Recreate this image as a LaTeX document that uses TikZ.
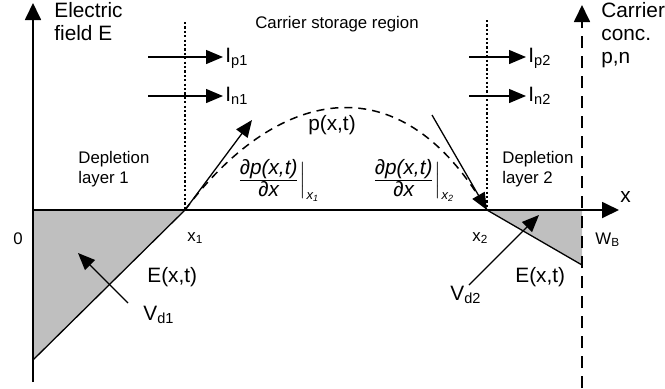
\documentclass[tikz,border=0pt]{standalone}
\usepackage{amsmath}
\usepackage{fontspec}
\setmainfont{Liberation Sans}
\usetikzlibrary{arrows.meta}

\begin{document}
\begin{tikzpicture}[
    x=0.5pt, y=-0.5pt,
    axis/.style={line width=0.9pt, -{Triangle[length=8.5pt, width=8pt]}},
    arrow/.style={line width=0.65pt, -{Triangle[length=8.5pt, width=7pt]}},
    guide/.style={line width=0.6pt, dash pattern=on 1.1pt off 1.1pt},
    profile/.style={line width=0.75pt, dash pattern=on 4pt off 3pt},
    field/.style={line width=0.65pt},
    region/.style={fill=black!25},
    txt/.style={font=\fontsize{10.4}{11.4}\selectfont, inner sep=0pt},
    smalltxt/.style={font=\fontsize{8.4}{9.8}\selectfont, inner sep=0pt}
]
\useasboundingbox (0,0) rectangle (665,388);

\coordinate (origin) at (33,210);
\coordinate (ebot) at (33,382);
\coordinate (etop) at (33,3);
\coordinate (xend) at (619,210);
\coordinate (xone) at (185,210);
\coordinate (xtwo) at (487,210);
\coordinate (wb) at (582,210);
\coordinate (emin) at (33,360);
\coordinate (ewb) at (582,265);
\coordinate (cbot) at (582,388);
\coordinate (ctop) at (582,5);
\coordinate (guideone) at (185,22);
\coordinate (guidetwo) at (487,20);

\fill[region] (origin) -- (xone) -- (emin) -- cycle;
\fill[region] (xtwo) -- (wb) -- (ewb) -- cycle;
\draw[field] (emin) -- (xone);
\draw[field] (xtwo) -- (ewb);

\draw[guide] (guideone) -- (xone);
\draw[guide] (guidetwo) -- (xtwo);

\draw[axis] (ebot) -- (etop);
\draw[axis] (origin) -- (xend);
\draw[axis, dash pattern=on 6pt off 4pt] (cbot) -- (ctop);

% carrier profile and its slopes at x1 and x2
\coordinate (slopeone) at (252,120);
\coordinate (slopetwo) at (432,115);
\draw[profile] (xone) .. controls (272,93) and (397,55) .. (xtwo);
\draw[arrow] (xone) -- (slopeone);
\draw[arrow] (slopetwo) -- (xtwo);

% currents at the edges of the storage region
\node[txt, anchor=base west] (ipone) at (225,62) {I\textsubscript{p1}};
\node[txt, anchor=base west] (inone) at (225,101) {I\textsubscript{n1}};
\node[txt, anchor=base west] (iptwo) at (528,62) {I\textsubscript{p2}};
\node[txt, anchor=base west] (intwo) at (528,101) {I\textsubscript{n2}};
\coordinate (iponestart) at (148,57);
\coordinate (inonestart) at (148,96);
\coordinate (iptwostart) at (469,57);
\coordinate (intwostart) at (469,96);
\draw[arrow, shorten >=1pt] (iponestart) -- (iponestart -| ipone.west);
\draw[arrow, shorten >=1pt] (inonestart) -- (inonestart -| inone.west);
\draw[arrow, shorten >=1pt] (iptwostart) -- (iptwostart -| iptwo.west);
\draw[arrow, shorten >=1pt] (intwostart) -- (intwostart -| intwo.west);

% voltages across the depletion layers
\coordinate (vdonestart) at (128,303);
\coordinate (vdoneend) at (78,253);
\coordinate (vdtwostart) at (469,285);
\coordinate (vdtwoend) at (539,215);
\draw[arrow] (vdonestart) -- (vdoneend);
\draw[arrow] (vdtwostart) -- (vdtwoend);

\node[txt, anchor=north west, align=left] (efield) at (54,2) {Electric\\field E};
\node[txt, anchor=north west, align=left] (conc) at (601,2) {Carrier\\conc.\\p,n};
\node[smalltxt, anchor=base] (storage) at (337,28) {Carrier storage region};
\node[smalltxt, anchor=north west, align=left] (depone) at (78,151) {Depletion\\layer 1};
\node[smalltxt, anchor=north west, align=left] (deptwo) at (502,151) {Depletion\\layer 2};
\node[smalltxt, anchor=base] (zero) at (18,244) {0};
\node[smalltxt, anchor=base west] (xonelbl) at (187,241) {x\textsubscript{1}};
\node[smalltxt, anchor=base west] (xtwolbl) at (472,241) {x\textsubscript{2}};
\node[smalltxt, anchor=base west] (wblbl) at (595,244) {W\textsubscript{B}};
\node[txt, anchor=base west] (xlbl) at (620,202) {x};
\node[txt, anchor=base west] (efone) at (147,282) {E(x,t)};
\node[txt, anchor=base west] (eftwo) at (515,282) {E(x,t)};
\node[txt, anchor=base west] (vdone) at (143,320) {V\textsubscript{d1}};
\node[txt, anchor=base west] (vdtwo) at (450,300) {V\textsubscript{d2}};
\node[txt, anchor=base] (plbl) at (332,130) {p(x,t)};
\node[txt, anchor=base west] (dpone) at (237,185) {$\frac{\mbox{\itshape ∂p(x,t)}}{\mbox{\itshape ∂x}}\Bigr|_{\mbox{\fontsize{6.5}{7}\selectfont\itshape x\raisebox{-1pt}{\fontsize{4.5}{5}\selectfont 1}}}$};
\node[txt, anchor=base west] (dptwo) at (372,185) {$\frac{\mbox{\itshape ∂p(x,t)}}{\mbox{\itshape ∂x}}\Bigr|_{\mbox{\fontsize{6.5}{7}\selectfont\itshape x\raisebox{-1pt}{\fontsize{4.5}{5}\selectfont 2}}}$};
\end{tikzpicture}
\end{document}
